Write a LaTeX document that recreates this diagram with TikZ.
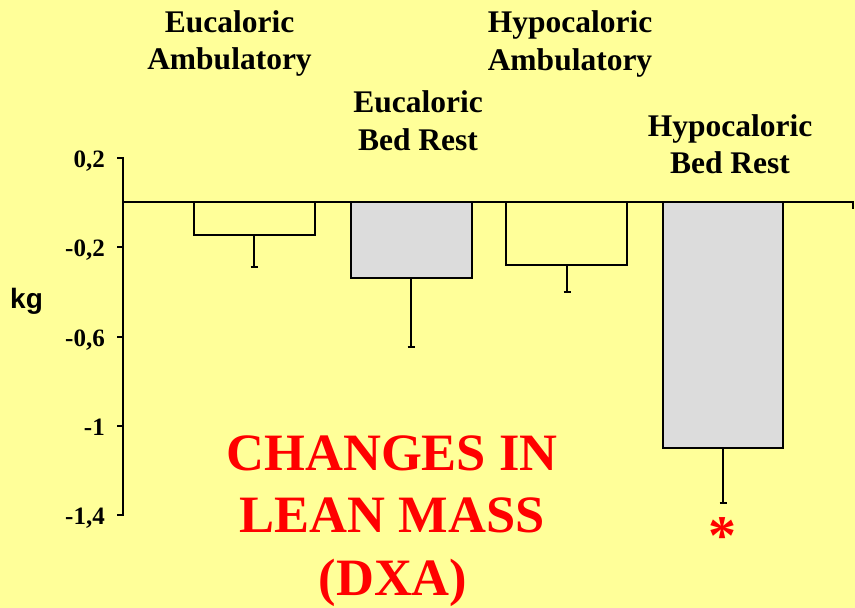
\documentclass[tikz,border=0pt]{standalone}
\usepackage{fontspec}
\newfontfamily\lblfont{Liberation Serif}
\newfontfamily\tickfont{Liberation Serif}
\newfontfamily\titlefont{Liberation Serif}
\newfontfamily\kgfont{Liberation Sans}
\definecolor{bgyellow}{HTML}{FFFF99}
\definecolor{bargray}{HTML}{DCDCDC}
\definecolor{titlered}{HTML}{FF0000}
\tikzset{
  axisline/.style={line width=2.8pt, line cap=rect},
  barbox/.style={line width=2.8pt, draw=black},
  errline/.style={line width=2.2pt},
  grouplabel/.style={font=\lblfont\bfseries\fontsize{31.5}{38}\selectfont, anchor=base, inner sep=0pt},
  ticklabel/.style={font=\tickfont\bfseries\fontsize{25}{28}\selectfont, anchor=base east, inner sep=0pt},
  titletext/.style={font=\titlefont\bfseries\fontsize{52.5}{62}\selectfont, text=titlered, anchor=base, inner sep=0pt},
}
\begin{document}
\begin{tikzpicture}[x=1pt,y=-1pt]
\fill[bgyellow] (0,0) rectangle (855,608);
\useasboundingbox (0,0) rectangle (855,608);

% axis
\coordinate (axtop) at (123,158);
\coordinate (axbot) at (123,515);
\coordinate (zl) at (123,202);
\coordinate (zr) at (853,202);
\coordinate (zrt) at (853,209);
% bars
\draw[barbox, fill=bgyellow] (194,202) rectangle (315,235);
\draw[barbox, fill=bargray] (351,202) rectangle (472,278);
\draw[barbox, fill=bgyellow] (506,202) rectangle (627,265);
\draw[barbox, fill=bargray] (663,202) rectangle (783,448);

% error bars
\coordinate (e1a) at (254,235); \coordinate (e1b) at (254,267);
\coordinate (e2a) at (411,278); \coordinate (e2b) at (411,347);
\coordinate (e3a) at (567,265); \coordinate (e3b) at (567,292);
\coordinate (e4a) at (723,448); \coordinate (e4b) at (723,503);
\foreach \i in {1,2,3,4}{
  \draw[errline] (e\i a) -- (e\i b);
  \draw[errline] ([xshift=-3.5pt]e\i b) -- ([xshift=3.5pt]e\i b);
}

\draw[axisline] (axtop) -- (axbot);
\draw[axisline, line cap=butt] (zl) -- (zr) -- (zrt);
\foreach \y/\t in {158/{0,2},247/{-0,2},337/{-0,6},426/{-1},515/{-1,4}}{
  \draw[axisline, line cap=butt] (117,\y) -- (124.4,\y);
  \node[ticklabel] at (105,\y+9) {\t};
}

\node[font=\kgfont\bfseries\fontsize{28}{32}\selectfont, anchor=base west, inner sep=0pt] (kg) at (10,308) {kg};

% group labels
\node[grouplabel] (g1a) at (229.5,32) {Eucaloric};
\node[grouplabel] (g1b) at (229.5,69) {Ambulatory};
\node[grouplabel] (g2a) at (418,112) {Eucaloric};
\node[grouplabel] (g2b) at (418,150) {Bed Rest};
\node[grouplabel] (g3a) at (570,32) {Hypocaloric};
\node[grouplabel] (g3b) at (570,70) {Ambulatory};
\node[grouplabel] (g4a) at (730,136) {Hypocaloric};
\node[grouplabel] (g4b) at (730,173) {Bed Rest};

% title
\node[titletext] (t1) at (392,470) {CHANGES IN};
\node[titletext] (t2) at (392,532) {LEAN MASS};
\node[titletext] (t3) at (393,595) {(DXA)};

\node[font=\titlefont\bfseries\fontsize{56}{56}\selectfont, text=titlered, anchor=base, inner sep=0pt] (star) at (722,554) {*};
\end{tikzpicture}
\end{document}
